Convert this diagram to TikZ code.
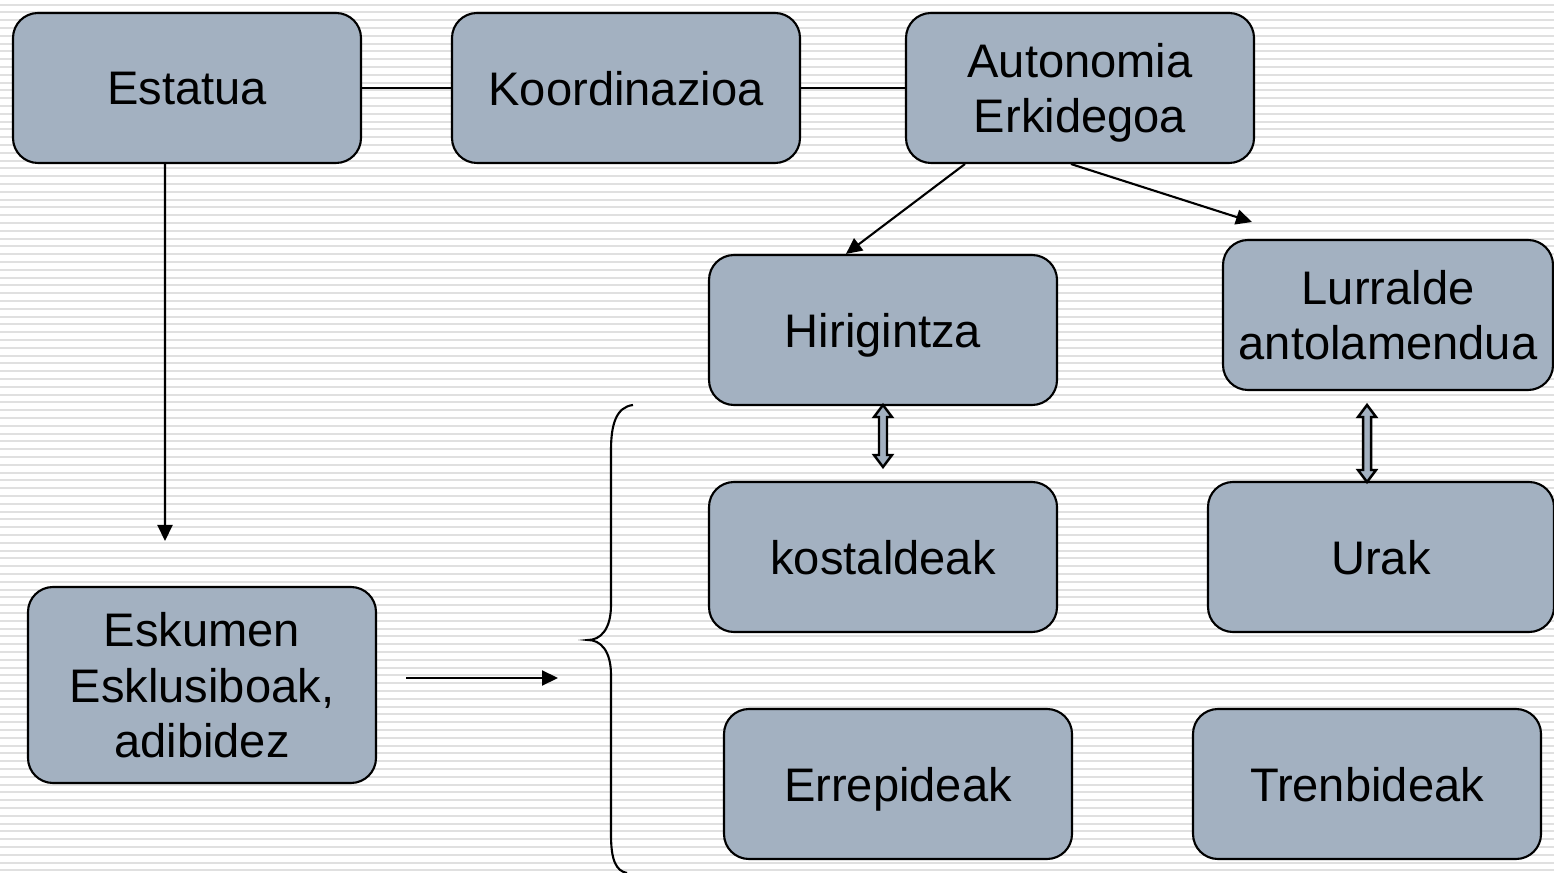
\documentclass[tikz,border=0pt]{standalone}
\usepackage{fontspec}
\setmainfont{Liberation Sans}
\usetikzlibrary{arrows.meta,calc}
\definecolor{boxgray}{RGB}{163,177,193}
\definecolor{stripe}{RGB}{224,224,224}
\newcommand{\updown}[3]{%
  \filldraw[fill=boxgray,draw=black,line width=0.7pt] (#1,#2) -- (#1+0.09,#2-0.12) -- (#1+0.04,#2-0.12)
    -- (#1+0.04,#3+0.12) -- (#1+0.09,#3+0.12) -- (#1,#3) -- (#1-0.09,#3+0.12) -- (#1-0.04,#3+0.12)
    -- (#1-0.04,#2-0.12) -- (#1-0.09,#2-0.12) -- cycle;}

\begin{document}
\begin{tikzpicture}[box/.style={draw,fill=boxgray,rounded corners=0.25cm,line width=0.6pt,
      minimum width=3.48cm,minimum height=1.5cm,align=center,inner sep=0pt,text depth=0pt,
      font=\fontsize{13.4}{15.8}\selectfont},
    link/.style={line width=0.6pt},
    arr/.style={line width=0.6pt,-{Triangle[length=0.16cm,width=0.15cm]}}]
\useasboundingbox (0,0) rectangle (15.54,-8.73);
\fill[white] (0,0) rectangle (15.54,-8.73);
\foreach \k in {0,...,111}
    \draw[stripe,line width=0.55pt] (0,-0.046-0.078*\k) -- (15.54,-0.046-0.078*\k);
    \node[box] (est) at (1.87,-0.88) {Estatua};
    \node[box] (koord) at (6.26,-0.88) {Koordinazioa};
    \node[box] (aut) at (10.80,-0.88) {Autonomia\\Erkidegoa};
    \node[box] (hir) at (8.83,-3.30) {Hirigintza};
    \node[box,minimum width=3.30cm] (lur) at (13.88,-3.15) {Lurralde\\antolamendua};
    \node[box] (kos) at (8.83,-5.57) {kostaldeak};
    \node[box,minimum width=3.46cm] (urak) at (13.81,-5.57) {Urak};
    \node[box,minimum height=1.96cm] (esk) at (2.02,-6.85) {Eskumen\\Esklusiboak,\\adibidez};
    \node[box] (errep) at (8.98,-7.84) {Errepideak};
    \node[box] (tren) at (13.67,-7.84) {Trenbideak};
    \coordinate (estend) at (1.65,-5.41);
    \coordinate (lurtop) at (12.52,-2.22);
    \coordinate (eskfrom) at (4.06,-6.78);
    \coordinate (eskto) at (5.58,-6.78);
    \draw[link] (est) -- (koord);
    \draw[link] (koord) -- (aut);
    \draw[arr] ([xshift=-0.22cm]est.south) -- (estend);
    \draw[arr] ([xshift=0.6cm]aut.south west) -- ([xshift=1.38cm]hir.north west);
    \draw[arr] ([xshift=1.66cm]aut.south west) -- (lurtop);
    \draw[arr] (eskfrom) -- (eskto);
    \updown{8.83}{-4.05}{-4.67}
    \updown{13.67}{-4.05}{-4.82}
    % giltza
    \draw[line width=0.6pt] (6.33,-4.05) .. controls (6.16,-4.07) and (6.11,-4.25) .. (6.11,-4.5)
        -- (6.11,-6.05) .. controls (6.11,-6.30) and (6.00,-6.40) .. (5.88,-6.40)
        .. controls (6.00,-6.40) and (6.11,-6.50) .. (6.11,-6.75)
        -- (6.11,-8.35) .. controls (6.11,-8.60) and (6.16,-8.71) .. (6.27,-8.73);
\end{tikzpicture}
\end{document}
